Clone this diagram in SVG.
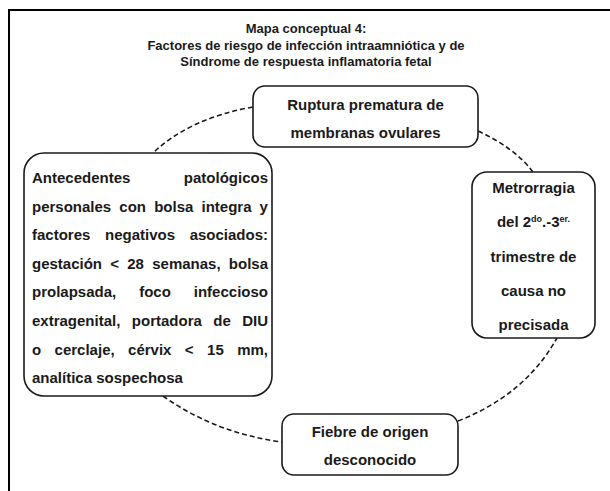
<svg xmlns="http://www.w3.org/2000/svg" width="610" height="491" viewBox="0 0 610 491">
<style>
text{font-family:"Liberation Sans",Arial,sans-serif;font-weight:bold;fill:#1a1a1a}
.t{font-size:13px;text-anchor:middle}
.n{font-size:15px}
.c{text-anchor:middle}
.box{fill:#fff;stroke:#1a1a1a;stroke-width:1.6}
.con{fill:none;stroke:#1a1a1a;stroke-width:1.6;stroke-dasharray:5,3}
.sup{font-size:9px}
</style>
<rect x="0" y="0" width="610" height="491" fill="#fff"/>
<rect x="9" y="10" width="700" height="600" fill="none" stroke="#000" stroke-width="2"/>
<g id="title">
<text class="t" x="306" y="33">Mapa conceptual 4:</text>
<text class="t" x="306" y="49.5">Factores de riesgo de infección intraamniótica y de</text>
<text class="t" x="306" y="66">Síndrome de respuesta inflamatoria fetal</text>
</g>
<g id="connectors">
<path class="con" d="M253,107 Q190,118 153,153"/>
<path class="con" d="M163,396 Q215,433 282,442"/>
<path class="con" d="M458,421 Q525,395 557,338"/>
<path class="con" d="M478,131 Q515,148 533,172"/>
</g>
<g id="ruptura">
<rect class="box" x="253" y="86" width="225" height="61" rx="12"/>
<text class="n c" x="365.5" y="110">Ruptura prematura de</text>
<text class="n c" x="365.5" y="138">membranas ovulares</text>
</g>
<g id="metrorragia">
<rect class="box" x="472" y="172" width="123" height="166" rx="15"/>
<text class="n c" x="533.5" y="193">Metrorragia</text>
<text class="n c" x="533.5" y="227">del 2<tspan class="sup" dy="-5">do</tspan><tspan dy="5">.-3</tspan><tspan class="sup" dy="-5">er.</tspan></text>
<text class="n c" x="533.5" y="262">trimestre de</text>
<text class="n c" x="533.5" y="296">causa no</text>
<text class="n c" x="533.5" y="330">precisada</text>
</g>
<g id="antecedentes">
<rect class="box" x="24" y="153" width="248" height="243" rx="20"/>
<text class="n" x="32" y="183">Antecedentes</text>
<text class="n" x="268" y="183" text-anchor="end">patológicos</text>
<text class="n" x="32" y="211.6" word-spacing="3.97">personales con bolsa integra y</text>
<text class="n" x="32" y="240.2" word-spacing="10.46">factores negativos asociados:</text>
<text class="n" x="32" y="268.8" word-spacing="4.08">gestación &lt; 28 semanas, bolsa</text>
<text class="n" x="32" y="297.4" word-spacing="18.8">prolapsada, foco infeccioso</text>
<text class="n" x="32" y="326" word-spacing="7.27">extragenital, portadora de DIU</text>
<text class="n" x="32" y="354.6" word-spacing="9.26">o cerclaje, cérvix &lt; 15 mm,</text>
<text class="n" x="32" y="383.2">analítica sospechosa</text>
</g>
<g id="fiebre">
<rect class="box" x="282" y="414" width="176" height="61" rx="12"/>
<text class="n c" x="370" y="437">Fiebre de origen</text>
<text class="n c" x="370" y="465">desconocido</text>
</g>
</svg>
